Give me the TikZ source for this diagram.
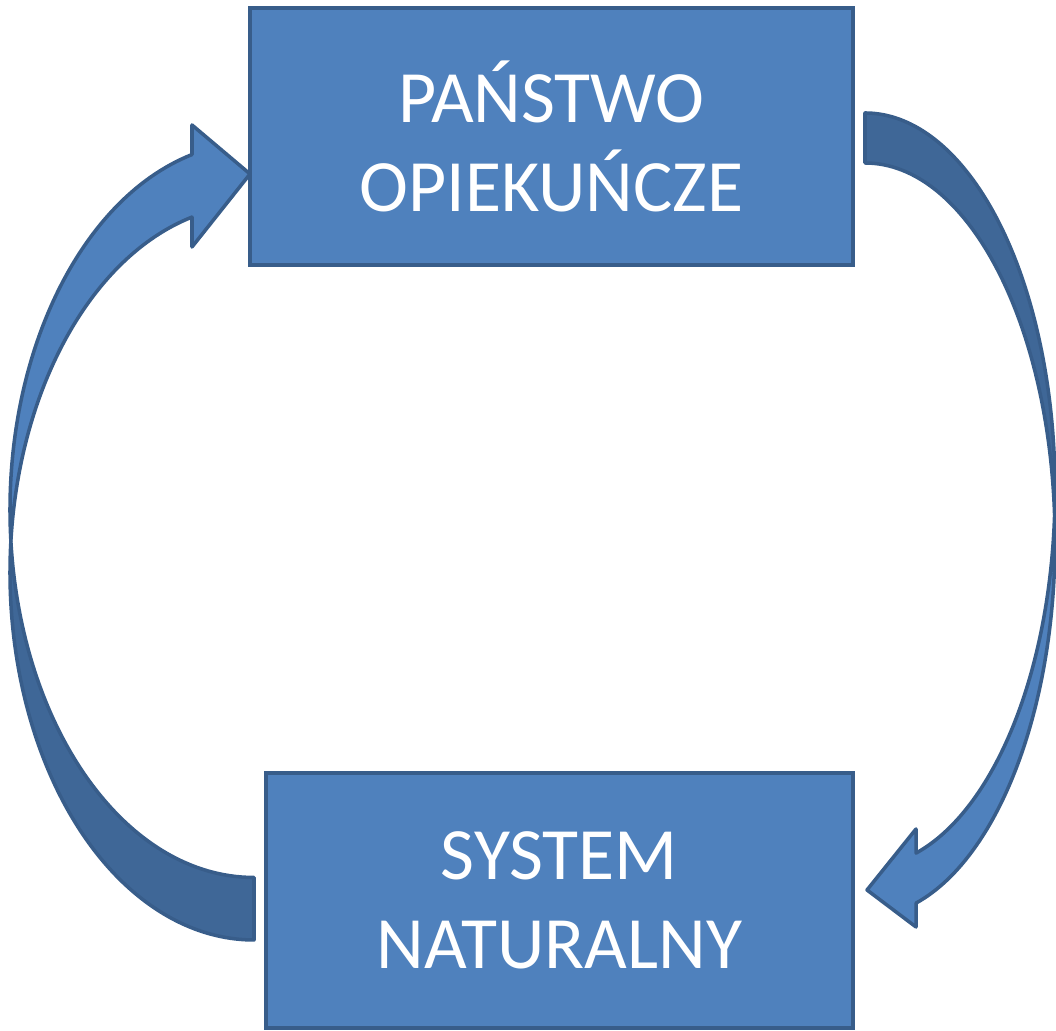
\documentclass[tikz,border=0pt]{standalone}
\usepackage{fontspec}
\setmainfont{Carlito}
\usepackage{tikz}

\definecolor{boxblue}{HTML}{4F81BD}
\definecolor{boxline}{HTML}{385D8A}
\definecolor{backblue}{HTML}{3F6797}

\begin{document}
\begin{tikzpicture}[
    box node/.style={rectangle,fill=boxblue,draw=boxline,line width=1.1pt,text=white,
      align=center,font=\fontsize{21}{25.3}\selectfont,inner sep=0pt},
    front part/.style={fill=boxblue,draw=boxline,line width=1pt,line join=round},
    back part/.style={fill=backblue,draw=boxline,line width=1pt,line join=round},
    ]
  \useasboundingbox (0,0) rectangle (10.56,10.31);

  % left arrow, back then front
  \draw[back part] (2.54,4.585) ++(175.08:2.44 and 3.675)
    arc[start angle=175.08, end angle=270, x radius=2.44cm, y radius=3.675cm]
    -- (2.54,1.535)
    arc[start angle=270, end angle=184.84, x radius=2.44cm, y radius=3.675cm] -- cycle;
  \draw[front part] (2.54,5.21) ++(184.84:2.44 and 3.675)
    arc[start angle=184.84, end angle=104.72, x radius=2.44cm, y radius=3.675cm]
    -- (1.92,9.06) -- (2.50,8.57) -- (1.92,7.84) -- (1.92,8.139)
    arc[start angle=104.72, end angle=175.08, x radius=2.44cm, y radius=3.675cm] -- cycle;

  % right arrow, back then front
  \draw[back part] (8.65,5.41) ++(-3.8:1.90 and 3.77)
    arc[start angle=-3.8, end angle=90, x radius=1.90cm, y radius=3.77cm]
    -- (8.65,8.68)
    arc[start angle=90, end angle=3.8, x radius=1.90cm, y radius=3.77cm] -- cycle;
  \draw[front part] (8.65,4.91) ++(3.8:1.90 and 3.77)
    arc[start angle=3.8, end angle=-74.4, x radius=1.90cm, y radius=3.77cm]
    -- (9.16,1.04) -- (8.67,1.41) -- (9.16,2.02) -- (9.161,1.779)
    arc[start angle=-74.4, end angle=-3.8, x radius=1.90cm, y radius=3.77cm] -- cycle;

  \node[box node,minimum width=6.03cm,minimum height=2.57cm] (panstwo) at (5.515,8.945)
    {PAŃSTWO\\OPIEKUŃCZE};
  \node[box node,minimum width=5.87cm,minimum height=2.55cm] (system) at (5.595,1.305)
    {SYSTEM\\NATURALNY};
\end{tikzpicture}
\end{document}
